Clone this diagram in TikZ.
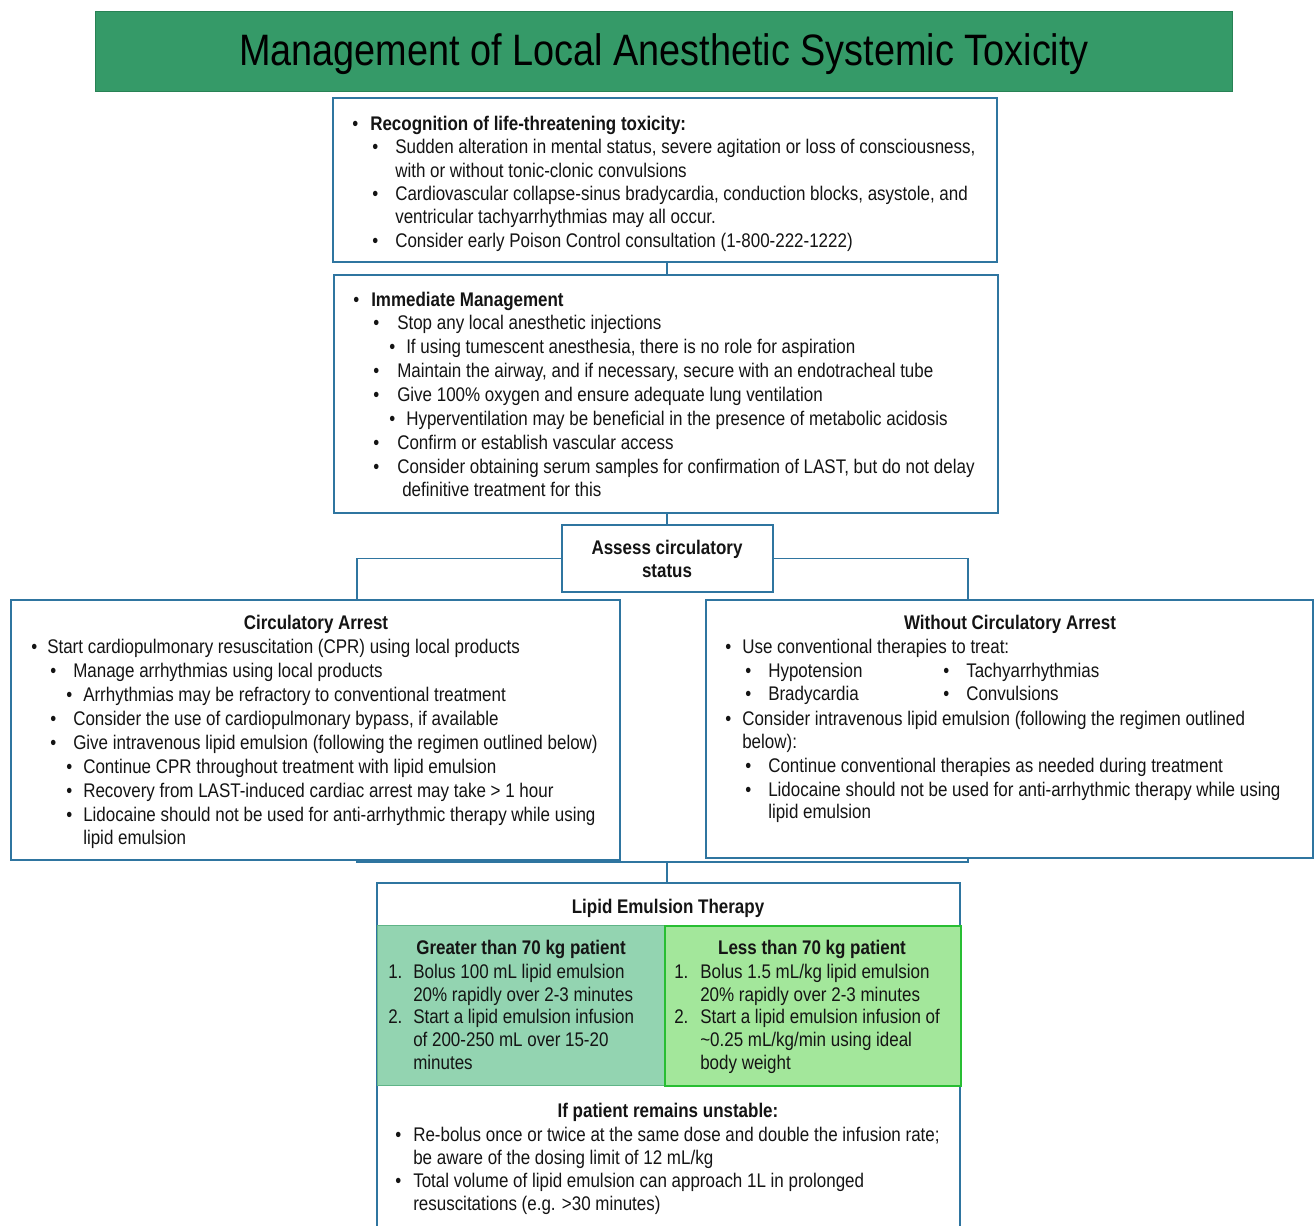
\documentclass[tikz,border=0pt]{standalone}
\usepackage{fontspec}
\setmainfont{Liberation Sans}[FakeStretch=0.86]
\usetikzlibrary{calc}
\definecolor{titlegreen}{RGB}{53,154,104}
\definecolor{titleedge}{RGB}{40,130,85}
\definecolor{bblue}{RGB}{47,117,160}
\definecolor{lcell}{RGB}{147,212,177}
\definecolor{lcelledge}{RGB}{95,180,135}
\definecolor{rcell}{RGB}{163,231,155}
\definecolor{rcelledge}{RGB}{40,190,50}
\definecolor{ink}{RGB}{20,20,20}
\newcount\lnc
\newcommand\txtat[3]{\global\advance\lnc by 1\relax\node[txt] (t\the\lnc) at (#1,#2) {#3};}
\newcommand\bulat[4]{\global\advance\lnc by 1\relax\node[txt] (d\the\lnc) at (#1,#3) {•};\node[txt] (t\the\lnc) at (#2,#3) {#4};}
\newcommand\hdat[4]{\node[hd] (#1) at (#2,#3) {#4};}
\newcommand\boxat[6]{\node[#6, anchor=north west, minimum width=#4*0.75pt, minimum height=#5*0.75pt] (#1) at (#2,#3) {};}
\begin{document}
\begin{tikzpicture}[x=0.75pt,y=-0.75pt,
  box/.style={draw=bblue, line width=1.4pt, fill=white, inner sep=0pt, outer sep=0pt},
  conn/.style={draw=bblue, line width=1.4pt},
  txt/.style={anchor=base west, inner sep=0pt, yshift=-1.5pt, text=ink, font=\fontsize{14.8}{17}\selectfont},
  hd/.style={anchor=base, inner sep=0pt, yshift=-1.5pt, text=ink, font=\fontsize{14.8}{17}\selectfont\bfseries},
  titlebox/.style={draw=titleedge, line width=0.8pt, fill=titlegreen, inner sep=0pt},
  lcellbox/.style={draw=lcelledge, line width=1pt, fill=lcell, inner sep=0pt},
  rcellbox/.style={draw=rcelledge, line width=1.6pt, fill=rcell, inner sep=0pt}]
\useasboundingbox (0,0) rectangle (1314,1226);
\fill[white] (0,0) rectangle (1314,1226);

% title
\boxat{title}{95}{11}{1137}{80}{titlebox}
\node[inner sep=0pt, text=black, yshift=-2.25pt, font=\fontsize{33}{38}\selectfont] (titletext) at (title.center) {Management of Local Anesthetic Systemic Toxicity};

% connectors (behind boxes)
\coordinate (caIn) at (357,600);
\coordinate (waIn) at (968,600);
\coordinate (caOut) at (357,858);
\coordinate (waOut) at (968,856);
\coordinate (jn) at (667,862);

% boxes
\boxat{rec}{333}{98}{664}{164}{box}
\boxat{imm}{334}{275}{664}{238}{box}
\boxat{as}{562}{525}{211}{67}{box}
\draw[conn] (rec.south -| 667,0) -- (imm.north -| 667,0);
\draw[conn] (imm.south -| 667,0) -- (as.north -| 667,0);
\draw[conn] (as.west) -| (caIn);
\draw[conn] (as.east) -| (waIn);
\draw[conn] (caOut) |- (jn) -| (waOut);
\boxat{ca}{11}{600}{609}{260}{box}
\boxat{wa}{706}{600}{607}{258}{box}
\boxat{le}{377}{883}{583}{380}{box}
\draw[conn] (jn) -- (le.north -| jn);
\boxat{gt}{377}{925}{287}{160}{lcellbox}
\boxat{lt}{664}{925}{296}{160}{rcellbox}

% Recognition box
\bulat{352}{370}{129}{\bfseries Recognition of life-threatening toxicity:}
\bulat{372}{395}{152}{Sudden alteration in mental status, severe agitation or loss of consciousness,}
\txtat{395}{176}{with or without tonic-clonic convulsions}
\bulat{372}{395}{199}{Cardiovascular collapse-sinus bradycardia, conduction blocks, asystole, and}
\txtat{395}{222}{ventricular tachyarrhythmias may all occur.}
\bulat{372}{395}{246}{Consider early Poison Control consultation (1-800-222-1222)}

% Immediate management
\bulat{353}{371}{305}{\bfseries Immediate Management}
\bulat{373}{397}{328}{Stop any local anesthetic injections}
\bulat{389}{406}{352}{If using tumescent anesthesia, there is no role for aspiration}
\bulat{373}{397}{376}{Maintain the airway, and if necessary, secure with an endotracheal tube}
\bulat{373}{397}{400}{Give 100\% oxygen and ensure adequate lung ventilation}
\bulat{389}{406}{424}{Hyperventilation may be beneficial in the presence of metabolic acidosis}
\bulat{373}{397}{448}{Confirm or establish vascular access}
\bulat{373}{397}{472}{Consider obtaining serum samples for confirmation of LAST, but do not delay}
\txtat{402}{495}{definitive treatment for this}

% Assess
\hdat{as1}{667}{553}{Assess circulatory}
\hdat{as2}{667}{576}{status}

% Circulatory arrest
\hdat{cah}{316}{627}{Circulatory Arrest}
\bulat{31}{47}{651}{Start cardiopulmonary resuscitation (CPR) using local products}
\bulat{50}{73}{675}{Manage arrhythmias using local products}
\bulat{66}{83}{699}{Arrhythmias may be refractory to conventional treatment}
\bulat{50}{73}{723}{Consider the use of cardiopulmonary bypass, if available}
\bulat{50}{73}{747}{Give intravenous lipid emulsion (following the regimen outlined below)}
\bulat{66}{83}{771}{Continue CPR throughout treatment with lipid emulsion}
\bulat{66}{83}{795}{Recovery from LAST-induced cardiac arrest may take > 1 hour}
\bulat{66}{83}{819}{Lidocaine should not be used for anti-arrhythmic therapy while using}
\txtat{83}{842}{lipid emulsion}

% Without circulatory arrest
\hdat{wah}{1010}{627}{Without Circulatory Arrest}
\bulat{725}{742}{651}{Use conventional therapies to treat:}
\bulat{745}{768}{675}{Hypotension}
\bulat{943}{966}{675}{Tachyarrhythmias}
\bulat{745}{768}{698}{Bradycardia}
\bulat{943}{966}{698}{Convulsions}
\bulat{725}{742}{723}{Consider intravenous lipid emulsion (following the regimen outlined}
\txtat{742}{746}{below):}
\bulat{745}{768}{770}{Continue conventional therapies as needed during treatment}
\bulat{745}{768}{794}{Lidocaine should not be used for anti-arrhythmic therapy while using}
\txtat{768}{816}{lipid emulsion}

% Lipid emulsion therapy
\hdat{leh}{668}{911}{Lipid Emulsion Therapy}
\hdat{gth}{521}{952}{Greater than 70 kg patient}
\txtat{388}{976}{1.}
\txtat{413}{976}{Bolus 100 mL lipid emulsion}
\txtat{413}{999}{20\% rapidly over 2-3 minutes}
\txtat{388}{1021}{2.}
\txtat{413}{1021}{Start a lipid emulsion infusion}
\txtat{413}{1044}{of 200-250 mL over 15-20}
\txtat{413}{1067}{minutes}
\hdat{lth}{812}{952}{Less than 70 kg patient}
\txtat{674}{976}{1.}
\txtat{700}{976}{Bolus 1.5 mL/kg lipid emulsion}
\txtat{700}{999}{20\% rapidly over 2-3 minutes}
\txtat{674}{1021}{2.}
\txtat{700}{1021}{Start a lipid emulsion infusion of}
\txtat{700}{1044}{\textasciitilde0.25 mL/kg/min using ideal}
\txtat{700}{1067}{body weight}

% unstable
\hdat{unh}{668}{1115}{If patient remains unstable:}
\bulat{395}{413}{1139}{Re-bolus once or twice at the same dose and double the infusion rate;}
\txtat{413}{1162}{be aware of the dosing limit of 12 mL/kg}
\bulat{395}{413}{1185}{Total volume of lipid emulsion can approach 1L in prolonged}
\txtat{413}{1208}{resuscitations (e.g. >30 minutes)}
\end{tikzpicture}
\end{document}
